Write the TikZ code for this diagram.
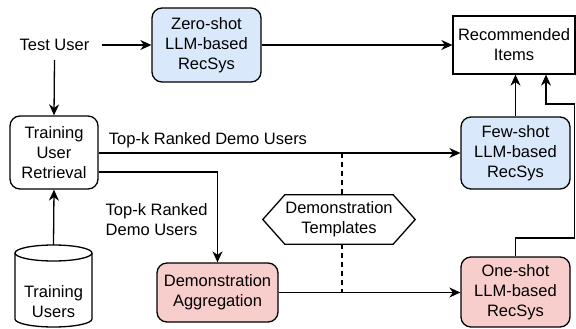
\documentclass[tikz,border=0pt]{standalone}
\usepackage{fontspec}
\setmainfont{Liberation Sans}
\usetikzlibrary{arrows.meta}
\definecolor{bluefill}{HTML}{DAE8FC}
\definecolor{redfill}{HTML}{F8CECC}
\begin{document}
\begin{tikzpicture}[x=1pt,y=-1pt,
  every node/.style={font=\fontsize{16.5}{20}\selectfont, align=center, inner sep=0pt},
  box/.style={draw, line width=1.3pt, rounded corners=10pt},
  bluebox/.style={box, fill=bluefill},
  redbox/.style={box, fill=redfill},
  arr/.style={line width=1.3pt, -{Stealth[length=11pt,width=10pt,inset=3.5pt]}},
  ln/.style={line width=1.3pt},
  dsh/.style={line width=1.3pt, dash pattern=on 5pt off 4pt}]
\useasboundingbox (0,0) rectangle (576,329);

\node[inner xsep=12pt, inner ysep=9pt] (test) at (54.5,45) {Test User};
\node[bluebox, minimum width=109pt, minimum height=74pt] (zero) at (206.5,45) {Zero-shot\\LLM-based\\RecSys};
\node[draw, line width=1.3pt, minimum width=122pt, minimum height=58pt] (rec) at (514,45) {Recommended\\Items};
\node[box, minimum width=88pt, minimum height=73pt] (retr) at (54,152.5) {Training\\User\\Retrieval};
\node[bluebox, minimum width=109pt, minimum height=72pt] (few) at (515.5,153) {Few-shot\\LLM-based\\RecSys};
\node[redbox, minimum width=121pt, minimum height=59pt] (agg) at (217.5,292.5) {Demonstration\\Aggregation};
\node[redbox, minimum width=109pt, minimum height=70pt] (one) at (515.5,292) {One-shot\\LLM-based\\RecSys};

% hexagon
\node[minimum width=152pt, minimum height=49pt] (tmpl) at (339,219.5) {};
\draw[ln, fill=white] (tmpl.west) -- ([xshift=22pt]tmpl.north west) -- ([xshift=-22pt]tmpl.north east)
  -- (tmpl.east) -- ([xshift=-22pt]tmpl.south east) -- ([xshift=22pt]tmpl.south west) -- cycle;
\node at (tmpl.center) {Demonstration\\Templates};

% cylinder
\node[minimum width=77pt, minimum height=82pt] (users) at (53.5,286) {};
\draw[ln, fill=white] (15,253) -- (15,319) arc[start angle=180, end angle=360, x radius=38.5pt, y radius=8pt]
  -- (92,253) arc[start angle=0, end angle=180, x radius=38.5pt, y radius=8pt] -- cycle;
\draw[ln] (15,253) arc[start angle=180, end angle=360, x radius=38.5pt, y radius=8pt];
\node at (53.5,302) {Training\\Users};

% labels
\node (lab1) at (208,140) {Top-k Ranked Demo Users};
\node[anchor=west, align=left] (lab2) at (105.5,220) {Top-k Ranked\\Demo Users};

% connectors
\draw[arr] (test.east) -- (zero.west);
\draw[arr] (zero.east) -- (rec.west);
\draw[arr] (test.south) -- (retr.north);
\draw[arr] (users.north) -- (retr.south);
\draw[arr] (retr.east |- few.west) -- (few.west);
\draw[arr] ([yshift=-19.5pt]retr.east) -| (agg.north);
\draw[arr] (agg.east) -- (agg.east -| one.west);
\draw[arr] (few.north) -- (few.north |- rec.south);
\coordinate (c1) at (574.6,238);
\coordinate (c2) at (574.6,104);
\draw[arr] (one.north) |- (c1) -- (c2) -| ([xshift=32pt]rec.south);

\coordinate (d1) at (342,153);
\coordinate (d2) at (342,292);
\draw[dsh] (d1) -- (d1 |- tmpl.north);
\draw[dsh] (d2 |- tmpl.south) -- (d2);
\end{tikzpicture}
\end{document}
